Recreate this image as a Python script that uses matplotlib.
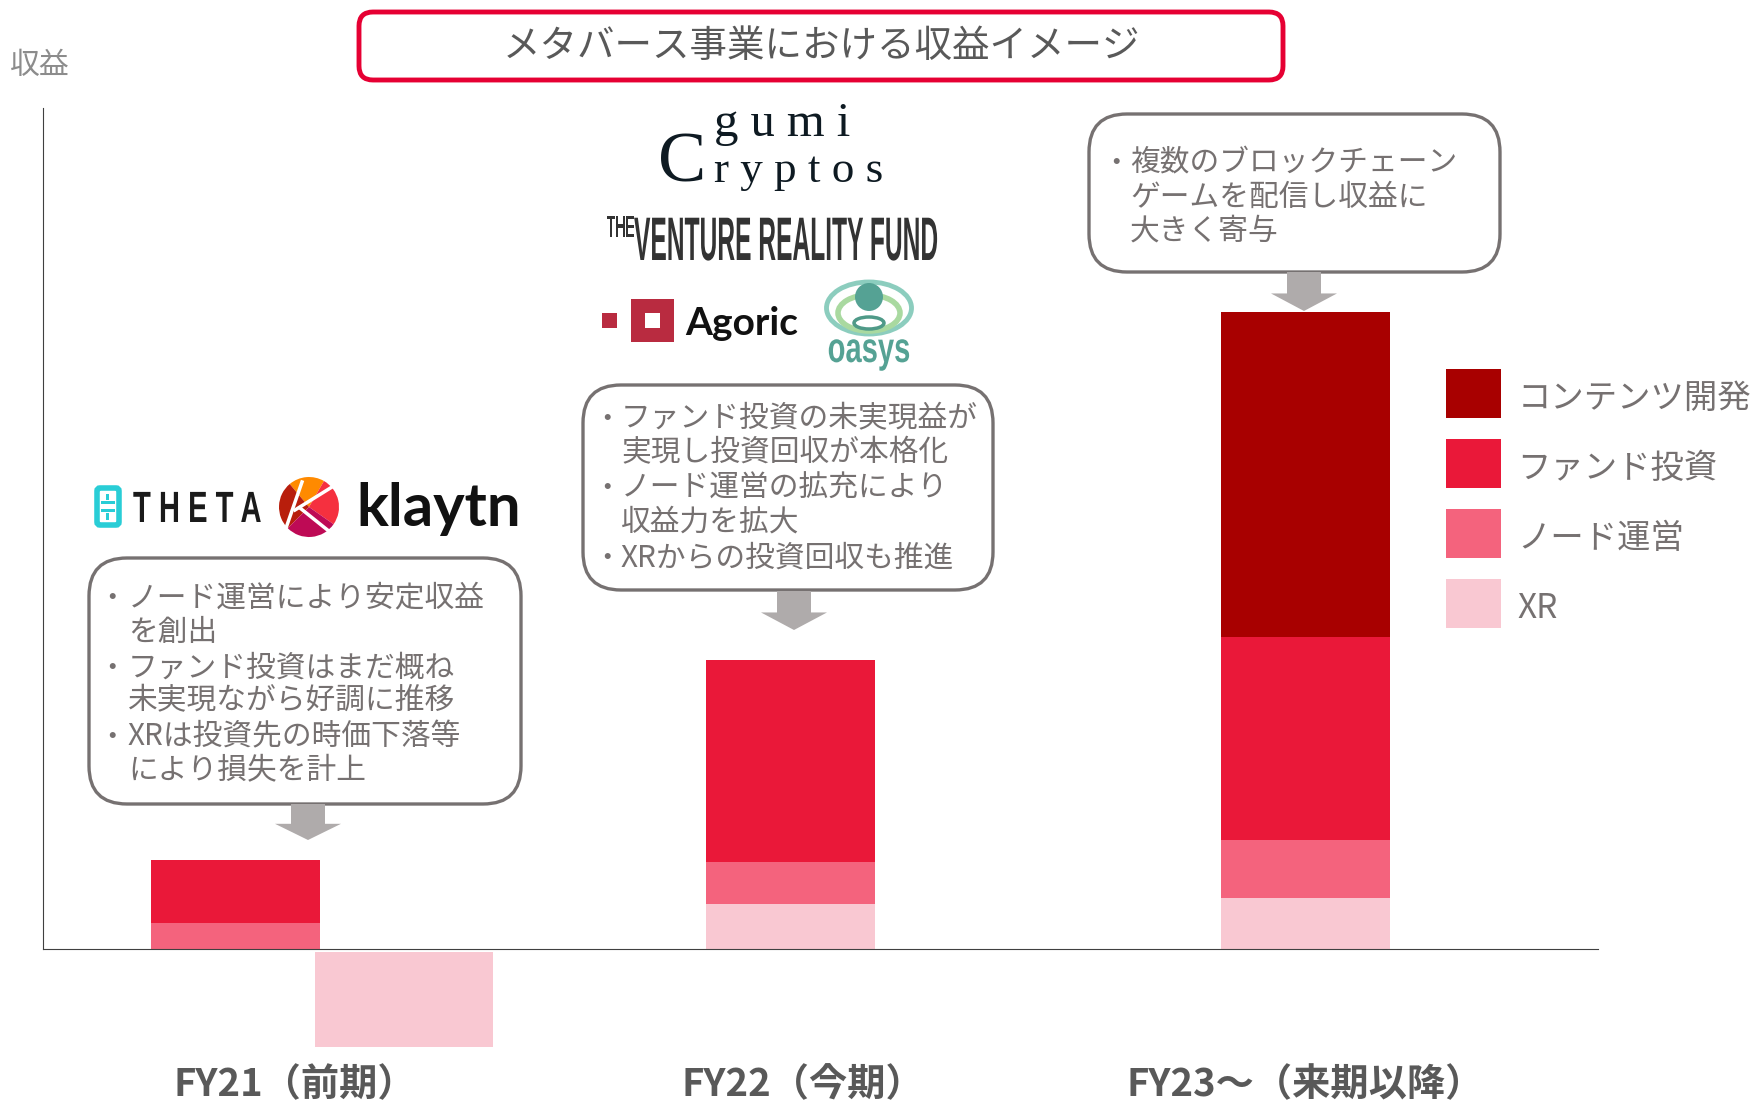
import matplotlib.pyplot as plt
from matplotlib.patches import Circle, Ellipse, FancyBboxPatch, Polygon, Rectangle, Wedge
from matplotlib.patheffects import AbstractPathEffect
from matplotlib.transforms import Affine2D

plt.rcParams['font.family'] = ['Noto Sans CJK JP', 'DejaVu Sans']

# chart values (1 unit = 1 pixel above the baseline)
categories = ['FY21（前期）', 'FY22（今期）', 'FY23～（来期以降）']
xr_values = [-95, 45, 51]
node_values = [26, 42, 58]
fund_values = [63, 202, 203]
content_values = [0, 0, 325]
series_names = ['コンテンツ開発', 'ファンド投資', 'ノード運営', 'XR']

callout_1 = ['ノード運営により安定収益', 'を創出', 'ファンド投資はまだ概ね', '未実現ながら好調に推移', 'XRは投資先の時価下落等', 'により損失を計上']
callout_2 = ['ファンド投資の未実現益が', '実現し投資回収が本格化', 'ノード運営の拡充により', '収益力を拡大', 'XRからの投資回収も推進']
callout_3 = ['複数のブロックチェーン', 'ゲームを配信し収益に', '大きく寄与']

DARK = '#A80000'
RED = '#EA1839'
PINK = '#F4637D'
LIGHT = '#F9C8D2'
GREY = '#767171'
ARROW = '#AFABAB'
BASE = 949  # pixel row of the baseline
NARROW = ['Liberation Sans Narrow', 'Liberation Sans']


def py(row):
    return BASE - row


class StretchY(AbstractPathEffect):
    # tall condensed lettering in the logos
    def __init__(self, k):
        super().__init__()
        self.k = k

    def draw_path(self, renderer, gc, tpath, affine, rgbFace=None):
        cy = affine.get_matrix()[1, 2]
        stretch = Affine2D().translate(0, -cy).scale(1, self.k).translate(0, cy)
        renderer.draw_path(gc, tpath, affine + stretch, rgbFace)


fig = plt.figure(figsize=(17.58, 11.04), dpi=100)
ax = fig.add_axes([0, 0, 1, 1])
ax.set_xlim(0, 1758)
ax.set_ylim(py(1104), py(0))

# bars
xr_x = [404, 791, 1306]
xr_w = [178, 169, 169]
xr_bottom = [-3, 0, 0]
bar_x = [236, 791, 1306]
stack = [max(v, 0) for v in xr_values]
b_xr = ax.bar(xr_x, xr_values, xr_w, bottom=xr_bottom, color=LIGHT, label=series_names[3])
b_node = ax.bar(bar_x, node_values, 169, bottom=stack, color=PINK, label=series_names[2])
stack = [a + b for a, b in zip(stack, node_values)]
b_fund = ax.bar(bar_x, fund_values, 169, bottom=stack, color=RED, label=series_names[1])
stack = [a + b for a, b in zip(stack, fund_values)]
b_content = ax.bar(bar_x, content_values, 169, bottom=stack, color=DARK, label=series_names[0])

# axes lines and labels
for side in ['top', 'right']:
    ax.spines[side].set_visible(False)
ax.spines['left'].set_position(('data', 43))
ax.spines['left'].set_bounds(0, py(108))
ax.spines['bottom'].set_position(('data', 0))
ax.spines['bottom'].set_bounds(43, 1598)
ax.spines['left'].set_color('#404040')
ax.spines['bottom'].set_color('#404040')
ax.set_yticks([])
ax.set_xticks([295, 803, 1305])
ax.set_xticklabels(categories, fontsize=27.5, fontweight='bold', color='#595959')
ax.tick_params(axis='x', length=0, pad=84)
ax.set_ylabel('収益', rotation=0, fontsize=21.5, color='#8C8C8C', ha='center', va='center')
ax.yaxis.set_label_coords(40, py(65), transform=ax.transData)

leg = ax.legend([b_content, b_fund, b_node, b_xr], series_names, loc='upper left',
                bbox_to_anchor=(1446, py(369)), bbox_transform=ax.transData, frameon=False,
                fontsize=24, labelcolor=GREY, borderpad=0, borderaxespad=0, handlelength=1.65,
                handleheight=1.886, labelspacing=0.63, handletextpad=0.5)
for t in leg.get_texts():
    t.set_y(-4)  # labels sit a little lower than the swatches

# title box
ax.add_patch(FancyBboxPatch((359, py(80)), 924, 68, boxstyle='round,pad=0,rounding_size=14',
                            fc='white', ec='#E60033', lw=3.5))
ax.text(821, py(47), 'メタバース事業における収益イメージ', fontsize=27, color='#595959', ha='center', va='center')


def callout(x0, x1, y0, y1, arrow_x, arrow_y0, arrow_y1):
    ax.add_patch(FancyBboxPatch((x0, py(y1)), x1 - x0, y1 - y0, boxstyle='round,pad=0,rounding_size=38',
                                fc='white', ec=GREY, lw=2.4, zorder=3))
    neck = arrow_y0 + (arrow_y1 - arrow_y0) * 0.55
    ax.add_patch(Polygon([(arrow_x - 17, py(arrow_y0)), (arrow_x + 17, py(arrow_y0)),
                          (arrow_x + 17, py(neck)), (arrow_x + 33, py(neck)),
                          (arrow_x, py(arrow_y1)), (arrow_x - 33, py(neck)),
                          (arrow_x - 17, py(neck))], fc=ARROW, ec='none', zorder=3))


def lines(rows, bullets, bullet_x, text_x, ys):
    for i, (row, y) in enumerate(zip(rows, ys)):
        ax.text(text_x - 1, py(y + 3), row, fontsize=21.4, color=GREY, va='center', zorder=4)
        if i in bullets:
            ax.text(bullet_x, py(y + 3), '・', fontsize=17, fontweight='bold', color=GREY,
                    ha='center', va='center', zorder=4)


callout(89, 521, 558, 804, 308, 804, 840)
lines(callout_1, [0, 2, 4], 112, 129, [595, 629, 665, 698, 734, 768])
callout(583, 993, 385, 590, 794, 591, 630)
lines(callout_2, [0, 2, 4], 607, 622, [416, 450, 485, 519, 555])
callout(1089, 1500, 114, 272, 1304, 272, 311)
lines(callout_3, [0], 1116, 1131, [160, 194, 228])

# logos: THETA
ax.add_patch(FancyBboxPatch((97, py(525)), 22, 37, boxstyle='round,pad=0,rounding_size=3',
                            fc='white', ec='#29CDD6', lw=4))
ax.add_patch(Rectangle((101, py(504)), 14, 3, fc='#29CDD6', ec='none'))
ax.add_patch(Rectangle((101, py(512)), 14, 3, fc='#29CDD6', ec='none'))
ax.add_patch(Rectangle((106.5, py(500)), 3, 6, fc='#29CDD6', ec='none'))
ax.add_patch(Rectangle((106.5, py(520)), 3, 7, fc='#29CDD6', ec='none'))
ax.text(133, py(522), 'T H E T A', fontsize=21, fontweight='bold', family=NARROW, color='#1A1A1A',
        va='baseline', path_effects=[StretchY(1.5)])

# logos: klaytn
kc = (309, py(507))
ax.add_patch(Wedge(kc, 30, 60, 130, fc='#FF8A00', ec='none'))
ax.add_patch(Wedge(kc, 30, 130, 225, fc='#B81E0C', ec='none'))
ax.add_patch(Wedge(kc, 30, -35, 60, fc='#F5303F', ec='none'))
ax.add_patch(Wedge(kc, 30, 225, 325, fc='#BE0A55', ec='none'))
ax.plot([302, 286], [py(482), py(528)], color='white', lw=2.5)
ax.plot([295, 332], [py(510), py(487)], color='white', lw=2.5)
ax.plot([300, 330], [py(508), py(532)], color='white', lw=2.5)
ax.text(356, py(526), 'klaytn', fontsize=43, fontweight='bold', family=['Lato', 'DejaVu Sans'],
        color='#111111', va='baseline')

# logos: gumi Cryptos
SERIF = ['Liberation Serif', 'DejaVu Serif']
ax.text(658, py(182), 'C', fontsize=52, family=SERIF, color='#0E1A22', va='baseline')
ax.text(714, py(136), 'g u m i', fontsize=35, family=SERIF, color='#0E1A22', va='baseline')
ax.text(714, py(182), 'r y p t o s', fontsize=32.5, family=SERIF, color='#0E1A22', va='baseline')

# logos: The Venture Reality Fund
ax.text(607, py(237), 'THE', fontsize=10, fontweight='bold', family=NARROW, color='#333333',
        va='baseline', path_effects=[StretchY(2.2)])
ax.text(634, py(260), 'VENTURE REALITY FUND', fontsize=17.7, fontweight='bold', family=NARROW,
        color='#333333', va='baseline', path_effects=[StretchY(2.5)])

# logos: Agoric
ax.add_patch(Rectangle((602, py(328)), 15, 15, fc='#B92B40', ec='none'))
ax.add_patch(Rectangle((631, py(342)), 43, 43, fc='#B92B40', ec='none'))
ax.add_patch(Rectangle((645, py(328)), 15, 15, fc='white', ec='none'))
ax.text(685, py(335), 'Agoric', fontsize=28, fontweight='bold', family=['Lato', 'DejaVu Sans'],
        color='#111111', va='baseline')

# logos: oasys
ax.add_patch(Ellipse((869, py(308)), 85, 52, fc='none', ec='#8CCDBE', lw=3.5))
ax.add_patch(Ellipse((869, py(313)), 62, 36, fc='none', ec='#A9D9A0', lw=4))
ax.add_patch(Ellipse((869, py(323)), 30, 12, fc='none', ec='#4F9A88', lw=2.5))
ax.add_patch(Circle((869, py(297)), 14, fc='#55A294', ec='none'))
ax.text(869, py(362), 'oasys', fontsize=21, fontweight='bold', family=NARROW, color='#55A294',
        ha='center', va='baseline', path_effects=[StretchY(1.45)])

fig.savefig('out.png', dpi=100)
